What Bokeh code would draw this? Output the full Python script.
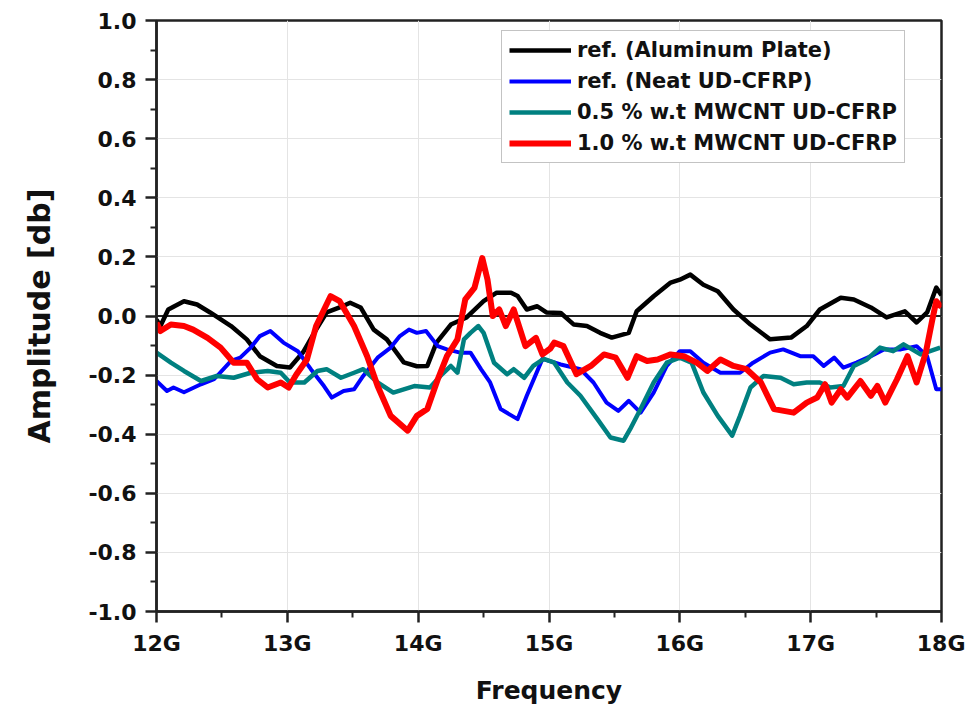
from bokeh.plotting import figure
from bokeh.models import Range1d, Span, Legend, LegendItem, FixedTicker, PrintfTickFormatter, Label
from bokeh.embed import file_html
from bokeh.resources import INLINE

# ---- data (frequency in GHz, amplitude in dB) ----
alu_f = [12.0, 12.03, 12.09, 12.21, 12.31, 12.41, 12.57, 12.69, 12.79, 12.92, 13.02, 13.12, 13.22, 13.30,
         13.40, 13.48, 13.56, 13.66, 13.76, 13.89, 13.99, 14.07, 14.14, 14.25, 14.37, 14.50, 14.60, 14.71,
         14.76, 14.83, 14.91, 14.98, 15.09, 15.19, 15.29, 15.39, 15.48, 15.61, 15.67, 15.80, 15.93, 16.00,
         16.08, 16.18, 16.29, 16.41, 16.54, 16.69, 16.85, 16.97, 17.07, 17.23, 17.33, 17.46, 17.58, 17.72,
         17.81, 17.89, 17.96, 18.0]
alu_v = [-0.012, -0.034, 0.022, 0.05, 0.039, 0.012, -0.034, -0.079, -0.136, -0.169, -0.174, -0.123, -0.046, 0.012,
         0.029, 0.045, 0.029, -0.046, -0.079, -0.157, -0.17, -0.169, -0.09, -0.029, -0.005, 0.05, 0.079, 0.079,
         0.068, 0.022, 0.033, 0.012, 0.01, -0.029, -0.034, -0.057, -0.073, -0.057, 0.016, 0.067, 0.113, 0.123,
         0.14, 0.106, 0.084, 0.022, -0.029, -0.079, -0.073, -0.034, 0.022, 0.062, 0.056, 0.029, -0.005, 0.016,
         -0.022, 0.012, 0.096, 0.07]

neat_f = [12.0, 12.08, 12.13, 12.21, 12.34, 12.44, 12.57, 12.64, 12.72, 12.79, 12.87, 12.97, 13.08, 13.18,
          13.28, 13.34, 13.43, 13.51, 13.58, 13.69, 13.79, 13.86, 13.93, 13.99, 14.06, 14.15, 14.22, 14.32,
          14.40, 14.48, 14.55, 14.63, 14.76, 14.83, 14.95, 15.09, 15.24, 15.34, 15.44, 15.53, 15.61, 15.70,
          15.80, 15.90, 16.00, 16.08, 16.18, 16.31, 16.46, 16.56, 16.69, 16.79, 16.92, 17.02, 17.10, 17.18,
          17.25, 17.35, 17.46, 17.56, 17.69, 17.81, 17.89, 17.96, 18.0]
neat_v = [-0.22, -0.254, -0.242, -0.258, -0.231, -0.214, -0.152, -0.141, -0.107, -0.068, -0.051, -0.09, -0.119, -0.18,
          -0.237, -0.276, -0.254, -0.248, -0.203, -0.141, -0.107, -0.068, -0.046, -0.057, -0.051, -0.102, -0.113, -0.124,
          -0.124, -0.18, -0.225, -0.315, -0.349, -0.27, -0.145, -0.164, -0.18, -0.225, -0.293, -0.321, -0.287, -0.327,
          -0.259, -0.169, -0.119, -0.119, -0.158, -0.192, -0.192, -0.158, -0.124, -0.113, -0.136, -0.136, -0.169, -0.141,
          -0.175, -0.158, -0.136, -0.113, -0.113, -0.102, -0.136, -0.248, -0.248]

cnt05_f = [12.0, 12.11, 12.21, 12.34, 12.46, 12.59, 12.72, 12.85, 12.95, 13.02, 13.13, 13.23, 13.30, 13.41,
           13.51, 13.58, 13.69, 13.81, 13.97, 14.09, 14.17, 14.25, 14.30, 14.35, 14.40, 14.46, 14.50, 14.58,
           14.68, 14.73, 14.81, 14.88, 14.96, 15.04, 15.14, 15.24, 15.37, 15.47, 15.57, 15.62, 15.70, 15.80,
           15.90, 16.00, 16.09, 16.18, 16.29, 16.40, 16.46, 16.54, 16.64, 16.77, 16.87, 16.97, 17.07, 17.15,
           17.25, 17.33, 17.43, 17.53, 17.63, 17.71, 17.84, 17.99]
cnt05_v = [-0.124, -0.158, -0.186, -0.22, -0.203, -0.209, -0.192, -0.186, -0.192, -0.225, -0.225, -0.186, -0.18, -0.209,
           -0.192, -0.18, -0.225, -0.259, -0.237, -0.242, -0.203, -0.169, -0.192, -0.079, -0.057, -0.034, -0.057, -0.158,
           -0.197, -0.18, -0.209, -0.169, -0.145, -0.158, -0.225, -0.27, -0.349, -0.411, -0.422, -0.383, -0.315, -0.225,
           -0.158, -0.141, -0.158, -0.259, -0.338, -0.405, -0.338, -0.242, -0.203, -0.209, -0.231, -0.225, -0.225, -0.242,
           -0.237, -0.169, -0.147, -0.107, -0.119, -0.096, -0.13, -0.107]

cnt10_f = [12.0, 12.03, 12.11, 12.21, 12.28, 12.39, 12.49, 12.59, 12.69, 12.77, 12.85, 12.95, 13.01, 13.07,
           13.15, 13.22, 13.33, 13.40, 13.51, 13.61, 13.69, 13.79, 13.92, 13.99, 14.07, 14.15, 14.22, 14.30,
           14.36, 14.43, 14.49, 14.53, 14.57, 14.62, 14.67, 14.73, 14.82, 14.90, 14.95, 15.01, 15.04, 15.11,
           15.21, 15.32, 15.42, 15.51, 15.60, 15.67, 15.75, 15.83, 15.93, 16.03, 16.13, 16.21, 16.31, 16.41,
           16.51, 16.62, 16.72, 16.87, 16.97, 17.05, 17.11, 17.16, 17.23, 17.28, 17.38, 17.46, 17.51, 17.57,
           17.66, 17.74, 17.81, 17.88, 17.93, 17.96, 18.0]
cnt10_v = [-0.023, -0.051, -0.029, -0.034, -0.046, -0.074, -0.107, -0.158, -0.158, -0.214, -0.242, -0.225, -0.242, -0.197,
           -0.147, -0.034, 0.067, 0.05, -0.034, -0.136, -0.237, -0.338, -0.388, -0.338, -0.315, -0.214, -0.136, -0.079,
           0.056, 0.095, 0.196, 0.123, 0.0, 0.022, -0.034, 0.022, -0.102, -0.074, -0.13, -0.11, -0.09, -0.102,
           -0.197, -0.169, -0.13, -0.141, -0.209, -0.136, -0.152, -0.147, -0.13, -0.136, -0.158, -0.186, -0.147, -0.169,
           -0.18, -0.225, -0.315, -0.327, -0.293, -0.276, -0.231, -0.293, -0.248, -0.276, -0.22, -0.27, -0.237, -0.293,
           -0.214, -0.136, -0.225, -0.124, -0.012, 0.05, 0.03]

series_names = ["ref. (Aluminum Plate)", "ref. (Neat UD-CFRP)",
                "0.5 % w.t MWCNT UD-CFRP", "1.0 % w.t MWCNT UD-CFRP"]
x_ticks = [12, 13, 14, 15, 16, 17, 18]
x_tick_labels = ["12G", "13G", "14G", "15G", "16G", "17G", "18G"]
y_ticks = [-1.0, -0.8, -0.6, -0.4, -0.2, 0.0, 0.2, 0.4, 0.6, 0.8, 1.0]

FONT = "DejaVu Sans"

p = figure(width=965, height=707, output_backend="svg", toolbar_location=None,
           x_range=Range1d(12, 18), y_range=Range1d(-1.0, 1.0),
           min_border_left=156, min_border_right=24, min_border_top=20, min_border_bottom=94)
p.background_fill_color = "white"
p.border_fill_color = "white"
p.outline_line_color = "#222222"
p.outline_line_width = 2.5

# axes
p.xaxis.ticker = FixedTicker(ticks=x_ticks, minor_ticks=[12.5, 13.5, 14.5, 15.5, 16.5, 17.5])
p.xaxis.major_label_overrides = {t: l for t, l in zip(x_ticks, x_tick_labels)}
p.yaxis.ticker = FixedTicker(ticks=y_ticks, minor_ticks=[round(-0.9 + 0.2 * i, 1) for i in range(10)])
p.yaxis.formatter = PrintfTickFormatter(format="%.1f")
for ax in (p.xaxis[0], p.yaxis[0]):
    ax.axis_line_color = "#222222"
    ax.axis_line_width = 2.5
    ax.major_tick_line_color = "#222222"
    ax.major_tick_line_width = 2.5
    ax.major_tick_out = 11
    ax.major_tick_in = 0
    ax.minor_tick_line_color = "#222222"
    ax.minor_tick_line_width = 2
    ax.minor_tick_out = 6
    ax.minor_tick_in = 0
    ax.major_label_text_font = FONT
    ax.major_label_text_font_style = "bold"
    ax.major_label_text_font_size = "22px"
    ax.major_label_text_color = "#111111"
    ax.axis_label_text_font = FONT
    ax.axis_label_text_font_style = "bold"
    ax.axis_label_text_color = "#111111"
p.xaxis.axis_label = "Frequency"
p.yaxis.axis_label = "Amplitude [db]"
p.xaxis.axis_label_text_font_size = "25px"
p.yaxis.axis_label_text_font_size = "30px"
p.xaxis.major_label_standoff = 8
p.yaxis.major_label_standoff = 9
p.xaxis.axis_label_standoff = 17
p.yaxis.axis_label_standoff = 28

p.xgrid.ticker = FixedTicker(ticks=x_ticks)
p.ygrid.ticker = FixedTicker(ticks=y_ticks)
p.grid.grid_line_color = "#e4e4e4"
p.grid.grid_line_width = 1
p.xgrid.minor_grid_line_color = "#eeeeee"
p.xgrid.minor_grid_line_dash = "2 2"

p.add_layout(Span(location=0, dimension="width", line_color="#222222", line_width=2, level="underlay"))

colors = ["#000000", "#0000ff", "#008080", "#ff0000"]
widths = [4.5, 4, 4.5, 6]
data = [(alu_f, alu_v), (neat_f, neat_v), (cnt05_f, cnt05_v), (cnt10_f, cnt10_v)]
items = []
for (f, v), c, w, name in zip(data, colors, widths, series_names):
    r = p.line(f, v, line_color=c, line_width=w, line_join="round")
    items.append(LegendItem(label=name, renderers=[r]))

legend = Legend(items=items, location=(345, 448), orientation="vertical")
legend.label_text_font = FONT
legend.label_text_font_style = "bold"
legend.label_text_font_size = "21px"
legend.label_text_color = "#111111"
legend.glyph_width = 62
legend.glyph_height = 24
legend.label_height = 24
legend.label_standoff = 6
legend.spacing = 7
legend.padding = 7
legend.margin = 0
legend.border_line_color = "#888888"
legend.border_line_width = 1.5
legend.background_fill_color = "white"
legend.background_fill_alpha = 1.0
p.add_layout(legend, "center")

# partially visible tick label at left edge
p.add_layout(Label(x=10.88, y=-1.0, text="G", text_align="right", text_baseline="bottom",
                   y_offset=-40, text_font=FONT, text_font_style="bold", text_font_size="22px",
                   text_color="#111111"))

open("out.html", "w").write(file_html(p, INLINE))
